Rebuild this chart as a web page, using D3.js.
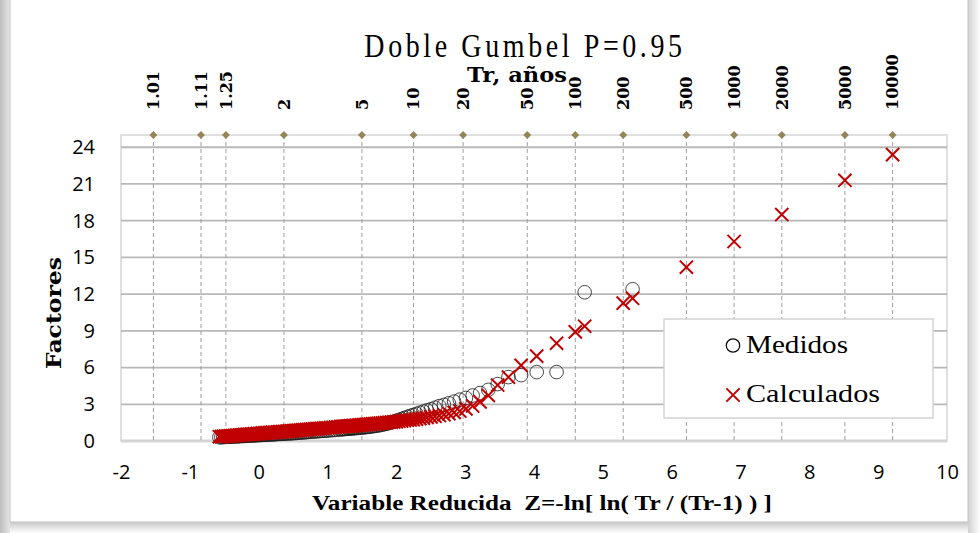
<!DOCTYPE html>
<html><head><meta charset="utf-8">
<script src="https://cdn.jsdelivr.net/npm/d3@7"></script>
<style>html,body{margin:0;padding:0;background:#fff;} svg{display:block}</style>
</head><body>
<svg id="c" width="980" height="533"></svg>
<script>
// Reduced variable Z of the ranked observations (ascending)
const zPoints = [-0.571,-0.542,-0.514,-0.487,-0.460,-0.433,-0.407,-0.381,-0.355,-0.330,
  -0.305,-0.280,-0.255,-0.231,-0.206,-0.182,-0.158,-0.134,-0.110,-0.086,
  -0.062,-0.038,-0.015,0.009,0.033,0.057,0.080,0.104,0.128,0.152,
  0.176,0.200,0.225,0.249,0.274,0.298,0.323,0.348,0.373,0.398,
  0.424,0.450,0.476,0.502,0.529,0.555,0.583,0.610,0.638,0.667,
  0.695,0.724,0.753,0.783,0.814,0.845,0.877,0.908,0.941,0.974,
  1.008,1.044,1.079,1.116,1.153,1.191,1.211,1.231,1.251,1.271,
  1.292,1.313,1.335,1.357,1.379,1.401,1.424,1.447,1.471,1.495,
  1.520,1.545,1.570,1.597,1.623,1.650,1.678,1.707,1.736,1.766,
  1.797,1.828,1.861,1.894,1.928,1.963,2.000,2.037,2.076,2.116,
  2.158,2.201,2.246,2.293,2.342,2.393,2.446,2.503,2.562,2.625,
  2.692,2.763,2.840,2.922,3.011,3.109,3.216,3.336,3.472,3.629,
  3.813,4.039,4.328,4.736,5.432];
const medidos = [0.30,0.31,0.32,0.33,0.34,0.34,0.35,0.36,0.37,0.38,
  0.38,0.39,0.40,0.41,0.41,0.42,0.43,0.44,0.45,0.45,
  0.46,0.47,0.48,0.48,0.49,0.50,0.51,0.51,0.52,0.53,
  0.54,0.54,0.55,0.56,0.57,0.58,0.58,0.59,0.60,0.61,
  0.62,0.62,0.63,0.64,0.65,0.66,0.68,0.69,0.70,0.71,
  0.72,0.74,0.75,0.76,0.78,0.79,0.80,0.82,0.83,0.84,
  0.86,0.88,0.89,0.91,0.93,0.95,0.96,0.97,0.98,0.99,
  1.00,1.01,1.02,1.03,1.04,1.05,1.06,1.07,1.09,1.10,
  1.11,1.13,1.14,1.16,1.18,1.20,1.22,1.25,1.27,1.30,
  1.34,1.38,1.42,1.47,1.52,1.57,1.65,1.72,1.80,1.88,
  1.97,2.05,2.13,2.22,2.31,2.40,2.50,2.60,2.72,2.85,
  2.95,3.08,3.22,3.38,3.52,3.72,3.92,4.18,4.65,5.22,
  5.38,5.63,5.63,12.15,12.40];
const calculados = [0.35,0.36,0.38,0.39,0.40,0.41,0.42,0.43,0.45,0.46,
  0.47,0.48,0.49,0.50,0.52,0.53,0.54,0.55,0.56,0.57,
  0.58,0.59,0.60,0.61,0.63,0.64,0.65,0.66,0.67,0.68,
  0.69,0.70,0.71,0.72,0.74,0.75,0.76,0.77,0.78,0.79,
  0.81,0.82,0.83,0.84,0.85,0.87,0.88,0.89,0.91,0.92,
  0.93,0.95,0.96,0.98,0.99,1.01,1.02,1.04,1.05,1.07,
  1.08,1.10,1.12,1.14,1.15,1.17,1.18,1.19,1.20,1.21,
  1.22,1.23,1.24,1.25,1.26,1.27,1.28,1.29,1.31,1.32,
  1.33,1.34,1.36,1.37,1.38,1.40,1.41,1.43,1.44,1.46,
  1.47,1.49,1.51,1.53,1.54,1.56,1.58,1.61,1.63,1.66,
  1.69,1.72,1.75,1.79,1.83,1.87,1.92,1.97,2.02,2.08,
  2.15,2.23,2.33,2.45,2.62,2.86,3.20,3.72,4.57,5.22,
  6.18,6.93,7.99,9.38,11.66];
// Calculated values at the return-period grid (Tr = 100 ... 10000)
const zGrid = [4.600,5.296,6.214,6.907,7.600,8.517,9.210];
const calcGrid = [8.92,11.26,14.20,16.30,18.50,21.30,23.40];
// Return period ticks (top axis)
const trLabels = ["1.01","1.11","1.25","2","5","10","20","50","100","200","500","1000","2000","5000","10000"];
const trZ = [-1.529,-0.838,-0.476,0.367,1.500,2.250,2.970,3.902,4.600,5.296,6.214,6.907,7.600,8.517,9.210];
const trLevel = 25;
const yTicks = [0,3,6,9,12,15,18,21,24];
const xTicks = [-2,-1,0,1,2,3,4,5,6,7,8,9,10];

const svg = d3.select("#c");
const x = d3.scaleLinear().domain([-2,10]).range([121,947]);
const y = d3.scaleLinear().domain([0,25]).range([441,135]);

// outer frame with shadow
const defs = svg.append("defs");
const gl = defs.append("linearGradient").attr("id","gl").attr("x1","0").attr("x2","1");
gl.append("stop").attr("offset","0").attr("stop-color","#bdbdbd");
gl.append("stop").attr("offset","1").attr("stop-color","#e6e6e6");
const gb = defs.append("linearGradient").attr("id","gb").attr("x1","0").attr("x2","0").attr("y1","0").attr("y2","1");
gb.append("stop").attr("offset","0").attr("stop-color","#c8c8c8");
gb.append("stop").attr("offset","1").attr("stop-color","#ffffff");
const gr = defs.append("linearGradient").attr("id","gr").attr("x1","0").attr("x2","1");
gr.append("stop").attr("offset","0").attr("stop-color","#d0d0d0");
gr.append("stop").attr("offset","1").attr("stop-color","#ffffff");
svg.append("rect").attr("x",0).attr("y",0).attr("width",10).attr("height",533).attr("fill","url(#gl)");
svg.append("rect").attr("x",10).attr("y",522).attr("width",958).attr("height",11).attr("fill","url(#gb)");
svg.append("rect").attr("x",968).attr("y",0).attr("width",12).attr("height",533).attr("fill","url(#gr)");
svg.append("rect").attr("x",10).attr("y",-1).attr("width",958).attr("height",523)
  .attr("fill","#fff").attr("stroke","#c4c4c4").attr("stroke-width",1);

// plot border
svg.append("rect").attr("x",x(-2)).attr("y",y(25)).attr("width",x(10)-x(-2)).attr("height",y(0)-y(25))
  .attr("fill","none").attr("stroke","#d6d6d6").attr("stroke-width",1.5);

// horizontal grid
svg.append("g").selectAll("line").data(yTicks.filter(d=>d>0)).join("line")
  .attr("x1",x(-2)).attr("x2",x(10)).attr("y1",d=>y(d)).attr("y2",d=>y(d))
  .attr("stroke","#b8b8b8").attr("stroke-width",1.8);
// x axis baseline
svg.append("line").attr("x1",x(-2)).attr("x2",x(10)).attr("y1",y(0)).attr("y2",y(0))
  .attr("stroke","#d4d4d4").attr("stroke-width",3);

// vertical dashed Tr lines
svg.append("g").selectAll("line").data(trZ).join("line")
  .attr("x1",d=>x(d)).attr("x2",d=>x(d)).attr("y1",y(trLevel)).attr("y2",y(0))
  .attr("stroke","#9e9e9e").attr("stroke-width",1).attr("stroke-dasharray","4,3");

// y axis
const yAxis = svg.append("g").attr("transform",`translate(${x(-2)},0)`)
  .call(d3.axisLeft(y).tickValues(yTicks).tickSize(0).tickPadding(26).tickFormat(d=>String(d)));
yAxis.select(".domain").remove();
yAxis.selectAll("text").attr("font-family","'Open Sans', sans-serif").attr("font-size",20).attr("fill","#000");

// x axis
const xAxis = svg.append("g").attr("transform",`translate(0,${y(0)})`)
  .call(d3.axisBottom(x).tickValues(xTicks).tickSize(0).tickPadding(24).tickFormat(d=>String(d)));
xAxis.select(".domain").remove();
xAxis.selectAll("text").attr("font-family","'Open Sans', sans-serif").attr("font-size",20).attr("fill","#000");

// Medidos (circles)
svg.append("g").selectAll("circle").data(zPoints.map((z,i)=>[z,medidos[i]])).join("circle")
  .attr("cx",d=>x(d[0])).attr("cy",d=>y(d[1])).attr("r",6.8)
  .attr("fill","none").attr("stroke","#1a1a1a").attr("stroke-width",0.8);

// Calculados (X)
const xPath = "M-6.6,-6.6L6.6,6.6M-6.6,6.6L6.6,-6.6";
const calcAll = zPoints.map((z,i)=>[z,calculados[i]]).concat(zGrid.map((z,i)=>[z,calcGrid[i]]));
svg.append("g").selectAll("path").data(calcAll).join("path")
  .attr("d",xPath).attr("transform",d=>`translate(${x(d[0])},${y(d[1])})`)
  .attr("stroke","#C00000").attr("stroke-width",2).attr("fill","none");

// Tr diamonds
svg.append("g").selectAll("path").data(trZ).join("path")
  .attr("d",d3.symbol(d3.symbolDiamond2,40))
  .attr("transform",d=>`translate(${x(d)},${y(trLevel)})`)
  .attr("fill","#948559");

// top Tr labels
svg.append("g").selectAll("text").data(trLabels).join("text")
  .attr("transform",(d,i)=>`translate(${x(trZ[i])},110) rotate(-90)`)
  .attr("dy","0.36em").attr("text-anchor","start")
  .attr("font-family","'DejaVu Serif', serif").attr("font-weight","bold").attr("font-size",16)
  .text(d=>d);

// title
svg.append("text").attr("transform","translate(525,57) scale(1,1.18)")
  .attr("text-anchor","middle").attr("font-family","'Liberation Serif', serif").attr("font-size",28)
  .attr("letter-spacing",3.6).text("Doble Gumbel P=0.95");
svg.append("text").attr("x",517).attr("y",81.5).attr("text-anchor","middle")
  .attr("font-family","'DejaVu Serif', serif").attr("font-weight","bold").attr("font-size",20)
  .attr("textLength",100).attr("lengthAdjust","spacingAndGlyphs").text("Tr, años");

// axis titles
svg.append("text").attr("transform","translate(61,313) rotate(-90)").attr("text-anchor","middle")
  .attr("font-family","'DejaVu Serif', serif").attr("font-weight","bold").attr("font-size",21)
  .attr("textLength",112).attr("lengthAdjust","spacingAndGlyphs").text("Factores");
svg.append("text").attr("x",542).attr("y",510).attr("text-anchor","middle")
  .attr("font-family","'Liberation Serif', serif").attr("font-weight","bold").attr("font-size",20)
  .attr("textLength",460).attr("lengthAdjust","spacingAndGlyphs")
  .attr("xml:space","preserve").text("Variable Reducida  Z=-ln[ ln( Tr / (Tr-1) ) ]");

// legend
const lg = svg.append("g");
lg.append("rect").attr("x",664).attr("y",319).attr("width",269).attr("height",99)
  .attr("fill","#fff").attr("stroke","#d4d4d4").attr("stroke-width",1.5);
lg.append("circle").attr("cx",733).attr("cy",345.5).attr("r",6.7).attr("fill","none")
  .attr("stroke","#000").attr("stroke-width",1.2);
lg.append("path").attr("d",xPath).attr("transform","translate(733,395)")
  .attr("stroke","#C00000").attr("stroke-width",2).attr("fill","none");
lg.append("text").attr("x",746).attr("y",353).attr("font-family","'Liberation Serif', serif")
  .attr("font-size",26).attr("textLength",102).attr("lengthAdjust","spacingAndGlyphs").text("Medidos");
lg.append("text").attr("x",746).attr("y",402).attr("font-family","'Liberation Serif', serif")
  .attr("font-size",26).attr("textLength",134).attr("lengthAdjust","spacingAndGlyphs").text("Calculados");
</script>
</body></html>
